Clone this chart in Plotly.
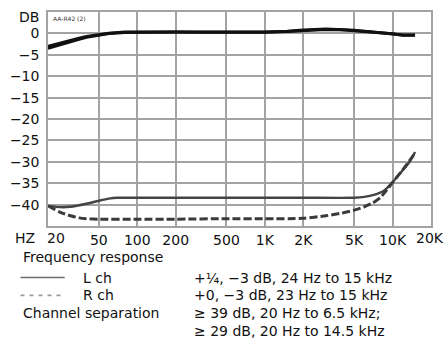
import plotly.graph_objects as go
import math

# ---------------- data ----------------
fr_freq = [20, 25, 30, 35, 40, 50, 60, 80, 100, 150, 200, 300, 500, 700, 1000,
           1500, 2000, 3000, 4000, 5000, 7000, 10000, 12000, 15000]
fr_L = [-3.0, -2.2, -1.6, -1.1, -0.7, -0.2, 0.05, 0.3, 0.35, 0.35, 0.35, 0.3, 0.3,
        0.25, 0.3, 0.5, 0.8, 1.0, 0.95, 0.75, 0.35, 0.0, -0.35, -0.35]
fr_R = [-3.5, -2.6, -1.9, -1.4, -0.9, -0.35, -0.05, 0.2, 0.25, 0.3, 0.3, 0.25, 0.25,
        0.2, 0.25, 0.45, 0.7, 0.9, 0.85, 0.65, 0.25, -0.1, -0.45, -0.45]

sepL_freq = [20, 25, 30, 40, 50, 60, 70, 100, 200, 500, 1000, 2000, 5000, 6000,
             7000, 8000, 8500, 10000, 11600, 13600, 15000]
sepL = [-40.3, -40.6, -40.5, -39.8, -39.1, -38.6, -38.4, -38.4, -38.4, -38.4,
        -38.4, -38.4, -38.4, -38.2, -37.8, -37.2, -36.8, -34.8, -32.5, -30.0, -27.7]

sepR_freq = [20, 25, 30, 35, 40, 50, 100, 200, 500, 1000, 2000, 3000, 4000, 5000,
             6000, 7000, 8000, 9000, 10000, 11000, 12500, 14000, 15000]
sepR = [-40.3, -41.8, -42.6, -43.1, -43.3, -43.4, -43.4, -43.4, -43.3, -43.3,
        -43.2, -42.6, -42.0, -41.3, -40.5, -39.6, -38.4, -36.6, -34.8, -33.3,
        -31.2, -29.2, -28.0]

x_tickvals = [20, 50, 100, 200, 500, 1000, 2000, 5000, 10000, 20000]
x_ticktext = ["20", "50", "100", "200", "500", "1K", "2K", "5K", "10K", "20K"]
y_tickvals = [0, -5, -10, -15, -20, -25, -30, -35, -40]
y_ticktext = ["0", "−5", "−10", "−15", "−20", "−25", "−30", "−35", "−40"]

legend_rows = [
    ("Frequency response", ""),
    ("L ch", "+¼, −3 dB, 24 Hz to 15 kHz"),
    ("R ch", "+0, −3 dB, 23 Hz to 15 kHz"),
    ("Channel separation", "≥ 39 dB, 20 Hz to 6.5 kHz;"),
    ("", "≥ 29 dB, 20 Hz to 14.5 kHz"),
]

# ---------------- layout geometry ----------------
W, H = 444, 341
ML, MR, MT, MB = 41, 13, 10, 115
PW, PH = W - ML - MR, H - MT - MB
FONT = "DejaVu Sans"
TXT = "#111111"
GRID = "#a3a3a3"


def px(x):
    return (x - ML) / PW


def py(y):
    return (MT + PH - y) / PH


fig = go.Figure()
fig.add_trace(go.Scatter(x=fr_freq, y=fr_R, mode="lines", line=dict(color="#111", width=3), hoverinfo="skip"))
fig.add_trace(go.Scatter(x=fr_freq, y=fr_L, mode="lines", line=dict(color="#111", width=3), hoverinfo="skip"))
fig.add_trace(go.Scatter(x=sepL_freq, y=sepL, mode="lines", line=dict(color="#444", width=2.4, shape="spline", smoothing=0.6), hoverinfo="skip"))
fig.add_trace(go.Scatter(x=sepR_freq, y=sepR, mode="lines", line=dict(color="#3a3a3a", width=3, dash="8px,3px", shape="spline", smoothing=0.6), hoverinfo="skip"))

fig.update_layout(
    width=W, height=H, margin=dict(l=ML, r=MR, t=MT, b=MB),
    paper_bgcolor="white", plot_bgcolor="white", showlegend=False,
    font=dict(family=FONT, size=14, color=TXT),
)
# tick labels at the axis ends are drawn as annotations (offset / beyond edge)
shown_x = [t if v not in (20, 20000) else "" for v, t in zip(x_tickvals, x_ticktext)]
fig.update_xaxes(type="log", range=[math.log10(20), math.log10(20000)],
                 tickvals=x_tickvals, ticktext=shown_x, ticks="",
                 showgrid=True, gridcolor=GRID, gridwidth=1.5,
                 showline=True, linecolor=GRID, linewidth=1.5, mirror=True,
                 zeroline=False, tickfont=dict(family=FONT, size=14, color=TXT))
fig.update_yaxes(range=[-45, 5], tickvals=y_tickvals, ticktext=y_ticktext, ticks="",
                 showgrid=True, gridcolor=GRID, gridwidth=1.5,
                 showline=True, linecolor=GRID, linewidth=1.5, mirror=True,
                 zeroline=False, ticklabelstandoff=4,
                 tickfont=dict(family=FONT, size=14, color=TXT))

ann = []
ann.append(dict(text="DB", x=px(34), y=py(15), xref="paper", yref="paper",
                xanchor="right", yanchor="middle", showarrow=False))
ann.append(dict(text="HZ", x=px(5), y=py(238), xref="paper", yref="paper",
                xanchor="left", yanchor="middle", showarrow=False))
for v, t in zip(x_tickvals, x_ticktext):
    if v == 20:
        ann.append(dict(text=t, x=math.log10(v), y=py(238), xref="x", yref="paper",
                        xshift=8, xanchor="center", yanchor="middle", showarrow=False))
    elif v == 20000:
        ann.append(dict(text=t, x=math.log10(v), y=py(238), xref="x", yref="paper",
                        xshift=-1, xanchor="center", yanchor="middle", showarrow=False))
ann.append(dict(text="AA-R42 (2)", x=px(44), y=py(17), xref="paper", yref="paper",
                xanchor="left", yanchor="middle", showarrow=False,
                font=dict(size=6, color="#333")))

row_y = [257, 278, 296, 314, 332]
left_x = [13, 75, 75, 14, 14]
for (lt, rt), yy, lx in zip(legend_rows, row_y, left_x):
    if lt:
        ann.append(dict(text=lt, x=px(lx), y=py(yy), xref="paper", yref="paper",
                        xanchor="left", yanchor="middle", showarrow=False))
    if rt:
        ann.append(dict(text=rt, x=px(188), y=py(yy), xref="paper", yref="paper",
                        xanchor="left", yanchor="middle", showarrow=False))
fig.update_layout(annotations=ann)

fig.add_shape(type="line", xref="paper", yref="paper", x0=px(13), x1=px(58),
              y0=py(278), y1=py(278), line=dict(color="#6e6e6e", width=1.6))
fig.add_shape(type="line", xref="paper", yref="paper", x0=px(13), x1=px(58),
              y0=py(296), y1=py(296), line=dict(color="#9a9a9a", width=1.6, dash="4px,5px"))

fig.write_html("out.html")
